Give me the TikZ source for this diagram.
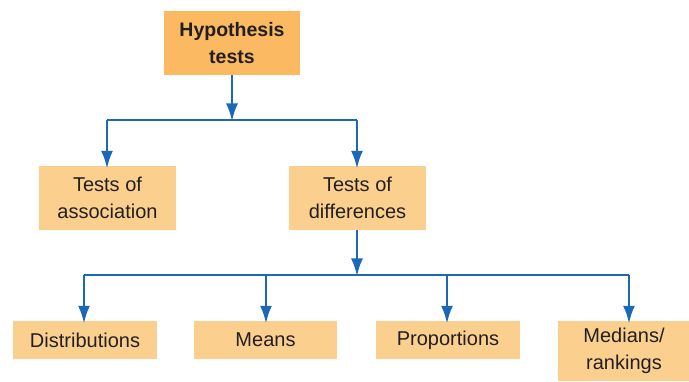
\documentclass[tikz,border=0pt]{standalone}
\usepackage{fontspec}
\setmainfont{Liberation Sans}
\usetikzlibrary{arrows.meta}
\definecolor{topfill}{HTML}{FBB961}
\definecolor{boxfill}{HTML}{FBD08F}
\definecolor{linkblue}{HTML}{1B68B6}
\definecolor{txt}{HTML}{231F20}
\begin{document}
\begin{tikzpicture}[x=1pt,y=-1pt,
  box/.style={fill=boxfill,draw=none,text=txt,align=center,inner sep=0pt,
    font=\fontsize{20}{27}\selectfont},
  topbox/.style={box,fill=topfill,font=\fontsize{19.5}{27}\selectfont\bfseries},
  link/.style={draw=linkblue,line width=2.8pt},
  arr/.style={link,-{Latex[length=18pt,width=12pt]}}]
\useasboundingbox (0,0) rectangle (689,382);
\node[topbox,minimum width=136pt,minimum height=64pt] (hyp) at (232,43) {Hypothesis\\tests};
\node[box,minimum width=137pt,minimum height=64pt] (assoc) at (107.5,198) {Tests of\\association};
\node[box,minimum width=137pt,minimum height=64pt] (diff) at (357.5,198) {Tests of\\differences};
\node[box,minimum width=144pt,minimum height=38pt] (dist) at (85,340) {Distributions};
\node[box,minimum width=143pt,minimum height=38pt] (means) at (265.5,340) {Means};
\node[box,minimum width=144pt,minimum height=38pt] (prop) at (448,340) {Proportions};
\node[box,minimum width=132pt,minimum height=60pt] (med) at (624,351) {Medians/\\rankings};
\coordinate (j1) at (232,120);
\coordinate (j2) at (357,275);
\draw[arr] (hyp.south) -- ([yshift=-1.5pt]j1);
\draw[link] (107,120) -- (357,120);
\draw[arr] (107,120) -- ([yshift=-3pt]assoc.north -| 107,0);
\draw[arr] (357,120) -- ([yshift=-3pt]diff.north -| 357,0);
\draw[arr] (diff.south -| j2) -- ([yshift=-1.5pt]j2);
\draw[link] (84,275) -- (629,275);
\draw[arr] (84,275) -- ([yshift=-3pt]dist.north -| 84,0);
\draw[arr] (266,275) -- ([yshift=-3pt]means.north -| 266,0);
\draw[arr] (447,275) -- ([yshift=-3pt]prop.north -| 447,0);
\draw[arr] (629,275) -- ([yshift=-3pt]med.north -| 629,0);
\end{tikzpicture}
\end{document}
